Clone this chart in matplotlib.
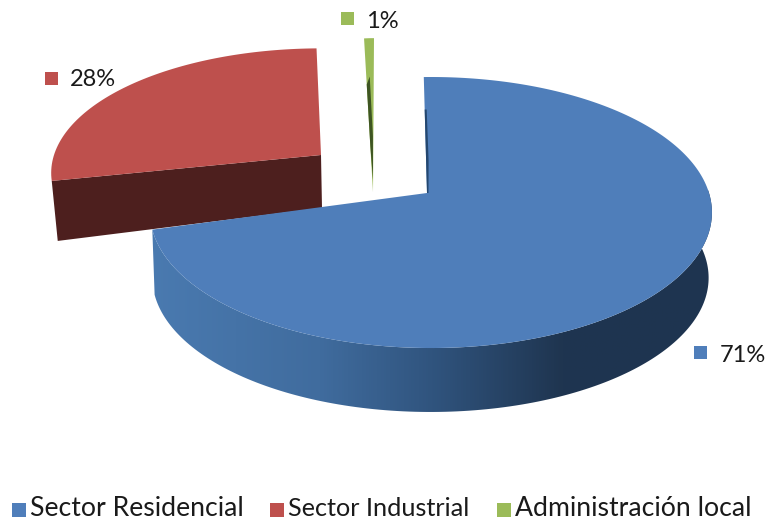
import numpy as np
import matplotlib
matplotlib.use("Agg")
import matplotlib.pyplot as plt
from matplotlib.colors import LinearSegmentedColormap
from matplotlib.patches import Polygon, Rectangle

categories = ["Sector Residencial", "Sector Industrial", "Administración local"]
values = [71, 28, 1]
labels = ["71%", "28%", "1%"]
colors = ["#4F7EBA", "#BE504D", "#9BBB59"]

plt.rcParams["font.family"] = ["Lato", "DejaVu Sans"]
fig = plt.figure(figsize=(7.68, 5.25), dpi=100)
ax = fig.add_axes([0, 0, 1, 1])
ax.set_xlim(0, 768)
ax.set_ylim(525, 0)
ax.axis("off")

K = 0.144  # perspective strength


def rim(theta_deg, cx, cy, a, b, ox=0.0):
    """Projected circle point; theta is clockwise from the far side."""
    t = np.radians(np.asarray(theta_deg, dtype=float))
    u, v = np.sin(t), -np.cos(t)
    w = 1 - K * v
    return np.column_stack([cx + ox + a * u / w, cy + b * v / w])


total = sum(values)
sweeps = [360 * v / total for v in values]
ends = np.cumsum(sweeps)
starts = ends - sweeps

# ---- red slice (exploded)
r_cx, r_cy, r_a, r_b = 321, 155, 267, 122
r_th = np.linspace(starts[1] + 2.5, ends[1] + 2.5, 80)
r_rim = rim(r_th, r_cx, r_cy, r_a, r_b)
apex_r = np.array([r_cx, r_cy])
ax.add_patch(Polygon([apex_r, apex_r + [1, 53], r_rim[0] + [6, 60], r_rim[0]],
                     closed=True, fc="#4D1F1E", ec="none", zorder=2))
ax.add_patch(Polygon(np.vstack([apex_r, r_rim]), closed=True,
                     fc=colors[1], ec="none", zorder=3))

# ---- green slice (exploded)
g_cx, g_cy, g_a, g_b = 373, 192, 163, 176
g_th = np.linspace(starts[2], ends[2] + 0.4, 8)
g_rim = rim(g_th, g_cx, g_cy, g_a, g_b)
apex_g = np.array([g_cx, g_cy])
ax.add_patch(Polygon(np.vstack([apex_g, g_rim]), closed=True,
                     fc=colors[2], ec="none", zorder=3))
p1 = g_rim[0] + 0.70 * (apex_g - g_rim[0])
p2 = g_rim[0] + 0.30 * (apex_g - g_rim[0])
ax.add_patch(Polygon([p2, p1, apex_g + [0, -12], p1 + [2.6, -10], p2 + [3, -8]],
                     closed=True, fc="#3E5522", ec="none", zorder=4))

# ---- blue slice
b_cx, b_cy, b_a, b_b = 427, 193, 278, 132.7
b_ox = 4
b_th = np.linspace(starts[0] - 1.7, ends[0] - 1.0, 240)
top_rim = rim(b_th, b_cx, b_cy, b_a, b_b, ox=b_ox)
apex_b = np.array([b_cx, b_cy])

vis = b_th >= 60
depth_cy = 258.5
bot_rim = rim(b_th[vis], b_cx, depth_cy, b_a * 0.99, b_b * 0.99, ox=b_ox - 0.5)
side = np.vstack([top_rim[vis], bot_rim[::-1]])

cmap = LinearSegmentedColormap.from_list(
    "side", [(0, "#4A7AB0"), (0.30, "#406C9E"), (0.50, "#30547E"), (0.73, "#1F3550"), (1, "#1E3450")])
grad = np.linspace(0, 1, 512).reshape(1, -1)
im = ax.imshow(grad, extent=[150, 715, 420, 190], cmap=cmap, aspect="auto", zorder=5)
clip = Polygon(side, closed=True, transform=ax.transData, fc="none", ec="none")
ax.add_patch(clip)
im.set_clip_path(clip)
ax.set_xlim(0, 768)
ax.set_ylim(525, 0)

ax.add_patch(Polygon(np.vstack([apex_b, top_rim]), closed=True,
                     fc=colors[0], ec="none", zorder=6))
# thin visible cut face near the apex
e0 = top_rim[0]
q1 = e0 + 0.72 * (apex_b - e0)
q2 = e0 + 0.28 * (apex_b - e0)
ax.add_patch(Polygon([q2, apex_b, apex_b + [1.5, 0], q1 + [2.5, 0], q2 + [2, 0]], closed=True,
                     fc="#24476F", ec="none", zorder=7))

# ---- data labels
label_sq = [(694, 346), (45, 72), (341, 12)]
label_txt = [(720, 355), (70, 80), (366, 21)]
for c, lab, (sx, sy), (tx, ty) in zip(colors, labels, label_sq, label_txt):
    ax.add_patch(Rectangle((sx, sy), 13, 13, fc=c, ec="none", zorder=8))
    ax.text(tx, ty, lab, fontsize=17, color="#1A1A1A", va="center", ha="left", zorder=8)

# ---- legend
leg_sq = [12, 270, 497]
leg_txt = [30, 288, 515]
leg_size = [19.2, 18.2, 19.2]
for c, cat, sx, tx, fs in zip(colors, categories, leg_sq, leg_txt, leg_size):
    ax.add_patch(Rectangle((sx, 503), 14, 14, fc=c, ec="none", zorder=8))
    ax.text(tx, 509, cat, fontsize=fs, color="#1A1A1A", va="center", ha="left", zorder=8)

fig.savefig("out.png", dpi=100, facecolor="white")
